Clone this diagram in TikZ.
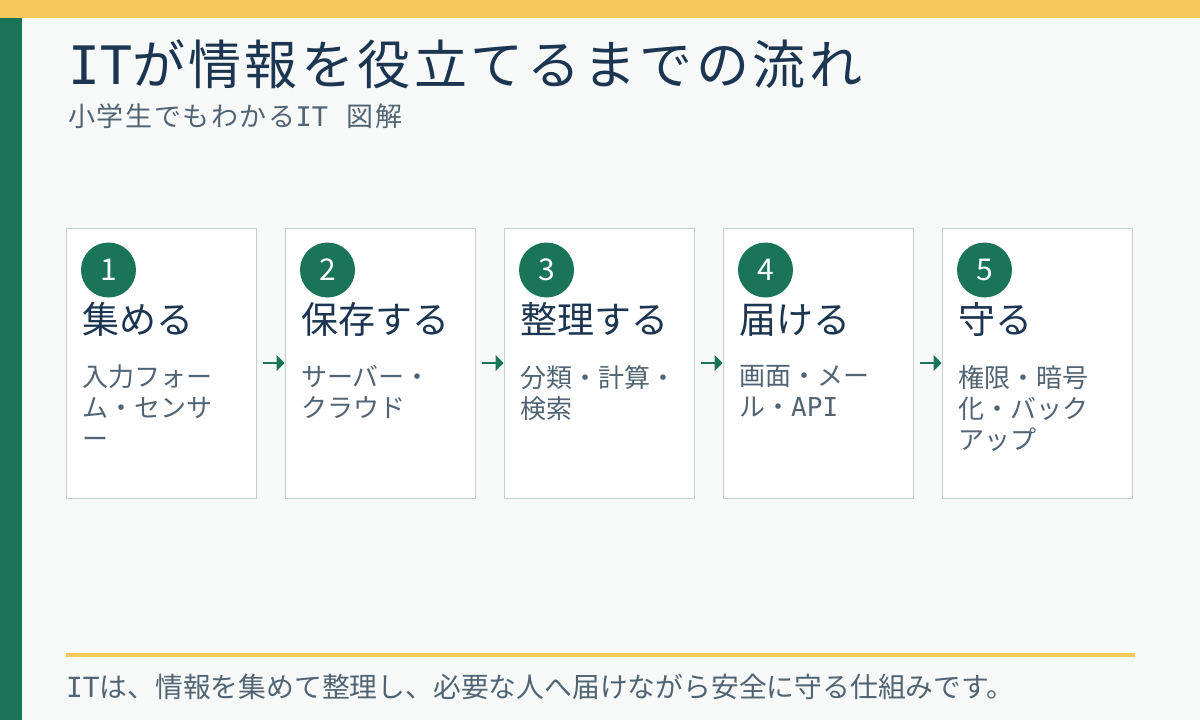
\documentclass[tikz,border=0pt]{standalone}
\usepackage{fontspec}
\setmainfont{Noto Sans CJK JP}
\newfontfamily\monolatin{DejaVu Sans Mono}
\usetikzlibrary{arrows.meta}
\definecolor{bgcol}{HTML}{F7F9F8}
\definecolor{sunbar}{HTML}{F5C95C}
\definecolor{stepgreen}{HTML}{1A7558}
\definecolor{navy}{HTML}{1C3651}
\definecolor{greytext}{HTML}{506473}
\definecolor{cardline}{HTML}{BFD1CC}
\begin{document}
\begin{tikzpicture}[x=1pt,y=-1pt,
  card/.style={draw=cardline,fill=white,line width=1pt,minimum width=190pt,minimum height=270pt,inner sep=0pt},
  num/.style={circle,fill=stepgreen,text=white,minimum size=55pt,inner sep=0pt,font=\fontsize{30}{30}\selectfont},
  head/.style={anchor=base west,inner sep=0pt,text=navy,font=\fontsize{37}{37}\selectfont},
  desc/.style={anchor=north west,inner sep=0pt,align=left,text=greytext,font=\fontsize{26}{31}\selectfont},
  flow/.style={draw=stepgreen,line width=1.5pt,-{Triangle[length=8pt,width=16pt]}}]
%background
\fill[bgcol] (0,0) rectangle (1200,720);
\fill[sunbar] (0,0) rectangle (1200,18);
\fill[stepgreen] (0,18) rectangle (22,720);

%title
\node[anchor=base west,inner sep=0pt,text=navy,font=\fontsize{53}{53}\selectfont\addfontfeatures{LetterSpace=6.5}] (title) at (68,84) {{\monolatin IT}が情報を役立てるまでの流れ};
\node[anchor=base west,inner sep=0pt,text=greytext,font=\fontsize{27}{27}\selectfont\addfontfeatures{LetterSpace=6}] (subtitle) at (68,126) {小学生でもわかる{\monolatin IT}\hspace{0.7em}図解};

%cards
\node[card] (c1) at (161,363) {};
\node[card] (c2) at (380,363) {};
\node[card] (c3) at (599,363) {};
\node[card] (c4) at (818,363) {};
\node[card] (c5) at (1037,363) {};

%numbers
\node[num] (n1) at (108.5,270) {1};
\node[num] (n2) at (327.5,270) {2};
\node[num] (n3) at (546.5,270) {3};
\node[num] (n4) at (765.5,270) {4};
\node[num] (n5) at (984.5,270) {5};

%headings
\node[head] (h1) at (82,333) {集める};
\node[head] (h2) at (301,333) {保存する};
\node[head] (h3) at (520,333) {整理する};
\node[head] (h4) at (739,333) {届ける};
\node[head] (h5) at (958,333) {守る};

%descriptions
\node[desc] (d1) at (82,365) {入力フォー\\ム・センサ\\ー};
\node[desc] (d2) at (301,365) {サーバー・\\クラウド};
\node[desc] (d3) at (520,365) {分類・計算・\\検索};
\node[desc] (d4) at (739,365) {画面・メー\\ル・{\monolatin API}};
\node[desc] (d5) at (958,365) {権限・暗号\\化・バック\\アップ};

%flow arrows
\draw[flow] ([xshift=6pt]c1.east) -- (c2.west);
\draw[flow] ([xshift=6pt]c2.east) -- (c3.west);
\draw[flow] ([xshift=6pt]c3.east) -- (c4.west);
\draw[flow] ([xshift=6pt]c4.east) -- (c5.west);

%summary
\draw[sunbar,line width=4pt] (66,655) -- (1135,655);
\node[anchor=base west,inner sep=0pt,text=greytext,font=\fontsize{27.8}{28}\selectfont] (summary) at (66,697) {{\monolatin IT}は、情報を集めて整理し、必要な人へ届けながら安全に守る仕組みです。};
\end{tikzpicture}
\end{document}
